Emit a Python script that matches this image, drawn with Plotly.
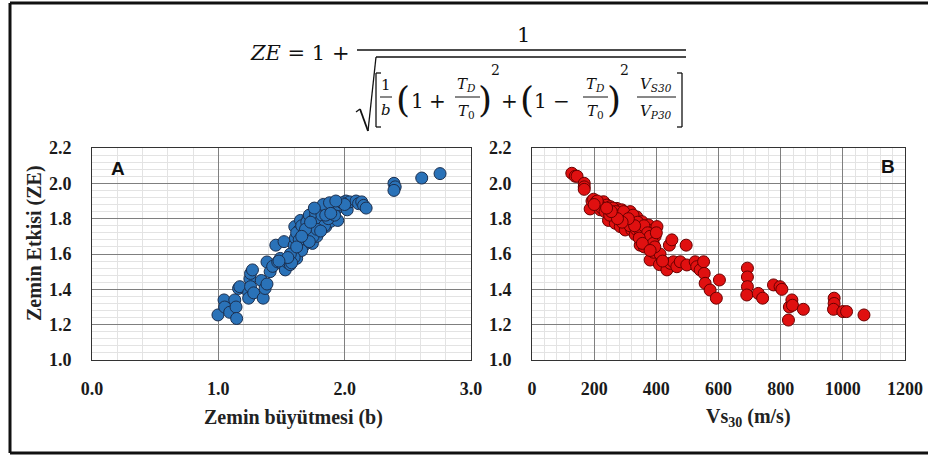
import plotly.graph_objects as go

# ---------------- data ----------------
b_vals = [0.997, 1.045, 1.05, 1.09, 1.13, 1.14, 1.145, 1.16, 1.17, 1.24, 1.24, 1.25, 1.255, 1.27,
          1.255, 1.28, 1.34, 1.355, 1.37, 1.385, 1.385, 1.41, 1.43, 1.455, 1.47, 1.49, 1.51, 1.52,
          1.53, 1.55, 1.57, 1.58, 1.60, 1.605, 1.61, 1.62, 1.63, 1.64, 1.65, 1.67, 1.68, 1.69, 1.70,
          1.71, 1.72, 1.73, 1.745, 1.76, 1.765, 1.79, 1.80, 1.81, 1.83, 1.835, 1.85, 1.865, 1.88,
          1.89, 1.92, 1.93, 1.945, 1.97, 2.01, 2.02, 2.04, 2.09, 2.11, 2.135, 2.15, 2.17, 2.39,
          2.40, 2.39, 2.61, 2.755,
          1.62, 1.66, 1.68, 1.70, 1.72, 1.74, 1.75, 1.77, 1.78, 1.80, 1.82, 1.84, 1.86, 1.87, 1.90,
          1.92, 1.95, 1.98, 2.00, 1.64, 1.66, 1.60, 1.57, 1.75, 1.72, 1.78, 1.83, 1.88, 1.93, 1.69,
          1.73, 1.76, 1.81, 1.85, 1.89, 1.58, 1.62, 1.66, 1.55, 1.48]
ze_a = [1.255, 1.34, 1.30, 1.27, 1.34, 1.30, 1.235, 1.405, 1.415, 1.38, 1.35, 1.46, 1.49, 1.51,
        1.415, 1.38, 1.45, 1.35, 1.405, 1.43, 1.555, 1.50, 1.53, 1.65, 1.555, 1.575, 1.54, 1.67,
        1.51, 1.55, 1.54, 1.60, 1.65, 1.755, 1.69, 1.575, 1.63, 1.735, 1.79, 1.70, 1.65, 1.755, 1.68,
        1.80, 1.725, 1.765, 1.66, 1.82, 1.72, 1.775, 1.84, 1.735, 1.80, 1.86, 1.755, 1.82, 1.875,
        1.785, 1.84, 1.875, 1.79, 1.87, 1.90, 1.85, 1.895, 1.90, 1.885, 1.895, 1.875, 1.86, 2.0,
        1.98, 1.96, 2.03, 2.055,
        1.72, 1.76, 1.72, 1.78, 1.82, 1.74, 1.79, 1.83, 1.70, 1.78, 1.82, 1.76, 1.85, 1.80, 1.86,
        1.82, 1.88, 1.89, 1.88, 1.68, 1.62, 1.58, 1.60, 1.70, 1.67, 1.74, 1.88, 1.89, 1.90, 1.74,
        1.78, 1.86, 1.73, 1.82, 1.83, 1.55, 1.64, 1.70, 1.58, 1.56]

vs30_vals = [128, 139, 145, 168, 168, 168, 187, 193, 198, 207, 220, 230, 241, 246, 252, 262, 268,
             273, 279, 284, 289, 295, 300, 305, 311, 316, 321, 327, 332, 337, 343, 348, 354, 357,
             361, 364, 370, 375, 380, 386, 389, 391, 396, 402, 412, 410, 434, 442, 450, 445, 455,
             466, 477, 496, 498, 525, 530, 541, 552, 554, 557, 573, 593, 603, 693, 693, 693, 691,
             728, 742, 777, 798, 804, 825, 828, 836, 838, 873, 972, 972, 970, 1000, 1012, 1068,
             215, 225, 235, 250, 260, 270, 285, 295, 305, 315, 325, 335, 340, 350, 360, 365, 372,
             380, 390, 395, 400, 345, 355, 330, 310, 290, 275, 255, 240, 210, 200, 380, 420]
ze_b = [2.057, 2.04, 2.04, 2.0, 1.98, 1.966, 1.855, 1.90, 1.91, 1.896, 1.85, 1.896, 1.877, 1.79,
        1.868, 1.83, 1.774, 1.858, 1.81, 1.755, 1.85, 1.80, 1.736, 1.83, 1.774, 1.84, 1.736, 1.79,
        1.71, 1.81, 1.755, 1.65, 1.783, 1.70, 1.64, 1.736, 1.68, 1.764, 1.566, 1.66, 1.736, 1.61,
        1.70, 1.755, 1.60, 1.54, 1.51, 1.65, 1.68, 1.547, 1.556, 1.528, 1.556, 1.65, 1.538, 1.556,
        1.528, 1.51, 1.556, 1.49, 1.434, 1.396, 1.35, 1.453, 1.52, 1.47, 1.415, 1.368, 1.377,
        1.35, 1.425, 1.415, 1.40, 1.226, 1.30, 1.34, 1.31, 1.287, 1.35, 1.32, 1.287, 1.274, 1.274,
        1.255,
        1.88, 1.86, 1.84, 1.82, 1.86, 1.84, 1.82, 1.84, 1.78, 1.76, 1.82, 1.74, 1.78, 1.72, 1.76,
        1.68, 1.72, 1.70, 1.66, 1.64, 1.72, 1.69, 1.66, 1.76, 1.80, 1.78, 1.80, 1.84, 1.86, 1.90,
        1.88, 1.62, 1.56]

y_ticks = [1.0, 1.2, 1.4, 1.6, 1.8, 2.0, 2.2]
x_ticks_a = [0.0, 1.0, 2.0, 3.0]
x_ticks_b = [0, 200, 400, 600, 800, 1000, 1200]

# ---------------- figure ----------------
W, H = 928, 457


def px(x):
    return x / W


def py(y):
    return 1 - y / H


fig = go.Figure()
fig.add_trace(go.Scatter(x=b_vals, y=ze_a, mode="markers", xaxis="x", yaxis="y",
                         marker=dict(size=12, color="#2a72b8",
                                     line=dict(color="#1b2f4f", width=1)),
                         showlegend=False))
fig.add_trace(go.Scatter(x=vs30_vals, y=ze_b, mode="markers", xaxis="x2", yaxis="y2",
                         marker=dict(size=12, color="#e01010",
                                     line=dict(color="#6a0000", width=1)),
                         showlegend=False))

tickfont = dict(family="Liberation Serif", size=18, color="#1a1a1a", weight="bold")
common_axis = dict(showline=True, linecolor="#333", linewidth=1, mirror=True,
                   showgrid=True, gridcolor="#7f7f7f", gridwidth=1, zeroline=False,
                   ticks="", tickfont=tickfont, automargin=False)

y_dom = [py(360), py(148)]
fig.update_layout(
    width=W, height=H, margin=dict(l=0, r=0, t=0, b=0, pad=0, autoexpand=False),
    paper_bgcolor="white", plot_bgcolor="white", showlegend=False,
    xaxis=dict(domain=[px(92), px(471)], range=[0, 3], tickvals=x_ticks_a,
               tickformat=".1f", ticklabelstandoff=12,
               minor=dict(dtick=0.2, showgrid=True, gridcolor="#e3e3e3"),
               anchor="y", **common_axis),
    yaxis=dict(domain=y_dom, range=[1.0, 2.2], tickvals=y_ticks, tickformat=".1f",
               ticklabelstandoff=16,
               minor=dict(dtick=0.04, showgrid=True, gridcolor="#e3e3e3"),
               anchor="x", **common_axis),
    xaxis2=dict(domain=[px(532), px(905)], range=[0, 1200], tickvals=x_ticks_b,
                ticklabelstandoff=12,
                minor=dict(dtick=40, showgrid=True, gridcolor="#e3e3e3"),
                anchor="y2", **common_axis),
    yaxis2=dict(domain=y_dom, range=[1.0, 2.2], tickvals=y_ticks, tickformat=".1f",
                ticklabelstandoff=16,
                minor=dict(dtick=0.04, showgrid=True, gridcolor="#e3e3e3"),
                anchor="x2", **common_axis),
)

ann = []


def text(x, y, s, size=20, family="Liberation Serif", anchor="center", color="#111", angle=0):
    ann.append(dict(x=px(x), y=py(y), xref="paper", yref="paper", text=s, showarrow=False,
                    xanchor=anchor, yanchor="middle", textangle=angle,
                    font=dict(family=family, size=size, color=color)))


# axis titles & panel labels
text(35, 243, "<b>Zemin Etkisi (ZE)</b>", size=20, angle=-90, color="#222")
text(293, 417, "<b>Zemin büyütmesi (b)</b>", size=20, color="#222")
text(748, 417, "<b>Vs<sub>30</sub> (m/s)</b>", size=20, color="#222")
text(118, 168, "<b>A</b>", size=19, family="Liberation Sans", color="#111")
text(888, 166, "<b>B</b>", size=19, family="Liberation Sans", color="#111")

# formula
F = "DejaVu Serif"
text(300, 53, "<i>ZE</i> = 1 +", size=21, family=F)
text(523, 35, "1", size=21, family=F)
text(386, 85, "1", size=15, family=F)
text(386, 110, "<i>b</i>", size=15, family=F)
text(403, 99, "(", size=36, family=F)
text(417, 101, "1", size=20, family=F)
text(437, 101, "+", size=20, family=F)
text(467, 85, "<i>T<sub>D</sub></i>", size=15, family=F)
text(467, 111, "<i>T</i><sub>0</sub>", size=15, family=F)
text(485, 99, ")", size=36, family=F)
text(495, 70, "2", size=14, family=F)
text(509, 101, "+", size=20, family=F)
text(527, 99, "(", size=36, family=F)
text(540, 101, "1", size=20, family=F)
text(561, 101, "−", size=20, family=F)
text(595, 85, "<i>T<sub>D</sub></i>", size=15, family=F)
text(595, 111, "<i>T</i><sub>0</sub>", size=15, family=F)
text(614, 99, ")", size=36, family=F)
text(624, 70, "2", size=14, family=F)
text(656, 85, "<i>V<sub>S30</sub></i>", size=15, family=F)
text(656, 111, "<i>V<sub>P30</sub></i>", size=15, family=F)

shapes = []


def line(x0, y0, x1, y1, w=1.5, color="#111"):
    shapes.append(dict(type="line", xref="paper", yref="paper", x0=px(x0), y0=py(y0),
                       x1=px(x1), y1=py(y1), line=dict(color=color, width=w)))


# fraction bar and sqrt
line(357, 50, 686, 50, 1.5)
line(376, 57, 686, 57, 1.5)
line(356, 112, 360, 109, 1.3)
line(360, 109, 368, 131, 1.8)
line(368, 131, 376, 57, 1.3)
# small fraction bars
line(380, 97, 392, 97, 1)
line(455, 97, 480, 97, 1)
line(583, 97, 608, 97, 1)
line(637, 97, 676, 97, 1)
# square brackets
for (x0, x1) in [(381, 376), (677, 682)]:
    line(x1, 73, x1, 127, 1.3)
    line(x1, 73, x0, 73, 1.3)
    line(x1, 127, x0, 127, 1.3)

# outer frame
line(10, 3, 10, 453, 3, "#111")
line(10, 3, 928, 3, 3, "#111")
line(10, 453, 928, 453, 3, "#111")

fig.update_layout(annotations=ann, shapes=shapes)
fig.write_html("out.html")
